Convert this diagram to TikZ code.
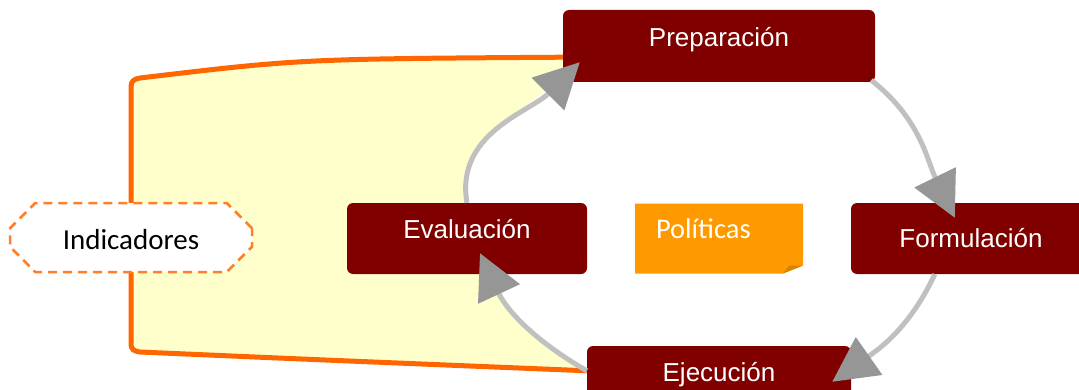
\documentclass[tikz,border=0pt]{standalone}
\usepackage{fontspec}
\setmainfont{Liberation Sans}
\newfontfamily\carlito{Carlito}
\usepackage{xcolor}
\usetikzlibrary{shapes.misc, arrows.meta}
\definecolor{boxred}{HTML}{800000}
\definecolor{polorange}{HTML}{FF9900}
\definecolor{foldorange}{HTML}{D98200}
\definecolor{areafill}{HTML}{FFFFCC}
\definecolor{areaborder}{HTML}{FF6600}
\definecolor{dashorange}{HTML}{FF7F2A}
\definecolor{arcgray}{HTML}{C0C0C0}
\definecolor{tipgray}{HTML}{969696}
\pgfdeclarelayer{background}
\pgfsetlayers{background,main}
\tikzstyle{stage} = [rectangle, rounded corners=6pt, fill=boxred, text=white, font=\fontsize{26}{30}\selectfont, text height=18.5pt, text depth=18pt, minimum height=71pt, inner sep=0pt]
\tikzstyle{policy} = [rectangle, text=white, font=\carlito\fontsize{28.5}{32}\selectfont, text height=18.5pt, text depth=18pt, minimum height=70pt, text width=126pt, align=left, inner xsep=21pt, inner ysep=0pt,
  path picture={
    \fill[polorange] (path picture bounding box.north west) -- (path picture bounding box.north east) -- ([yshift=8pt]path picture bounding box.south east) -- ([xshift=-20pt]path picture bounding box.south east) -- (path picture bounding box.south west) -- cycle;
    \fill[foldorange] ([yshift=8pt]path picture bounding box.south east) -- ([xshift=-20pt]path picture bounding box.south east) -- ([xshift=-14pt,yshift=8pt]path picture bounding box.south east) -- cycle;}]
\tikzstyle{indic} = [chamfered rectangle, chamfered rectangle xsep=23pt, chamfered rectangle ysep=13pt, draw=dashorange, line width=2.5pt, dash pattern=on 9pt off 6pt, fill=white, text=black, font=\carlito\fontsize{29}{32}\selectfont, text height=24.5pt, text depth=0pt, minimum width=242pt, minimum height=69pt, inner sep=0pt]
\tikzstyle{border} = [draw=areaborder, line width=5pt]
\tikzstyle{line} = [draw=arcgray, line width=5pt, -{Triangle[length=45pt, width=45pt, color=tipgray]}]

\begin{document}
\begin{tikzpicture}[x=1pt, y=1pt, node distance=252pt]
\clip (0,0) rectangle (1079,389);

\node [stage, minimum width=240pt] (eva) at (467,150.5) {Evaluación};
\node [policy, right of=eva] (pol) {Políticas};
\node [stage, minimum width=240pt, text depth=0pt, right of=pol] (form) {Formulación};
\node [stage, minimum width=312pt, minimum height=72pt, above of=pol, yshift=-59.5pt] (prep) {Preparación};
\node [stage, minimum width=264pt, below of=pol, yshift=109pt] (eje) {Ejecución};
\node [indic, left of=eva, xshift=-84pt, yshift=1pt] (ind) {Indicadores};

% area behind the cycle
\begin{pgfonlayer}{background}
\fill [areafill] (131,46) .. controls (131,39) and (134,38) .. (140,37) .. controls (300,30) .. ([yshift=-25pt]eje.north west)
  to[out=150, in=295] ([xshift=13pt, yshift=21pt]eva.south) -- (eva.north)
  to[out=100, in=225] ([xshift=17pt, yshift=20pt]prep.south west) -- ([yshift=25pt]prep.south west)
  .. controls (300,330) .. (140,311) .. controls (134,310) and (131,308) .. (131,302) -- cycle;
\path [border] ([yshift=25pt]prep.south west) .. controls (300,330) .. (140,311) .. controls (134,310) and (131,308) .. (131,302)
  -- (131,46) .. controls (131,39) and (134,38) .. (140,37) .. controls (300,30) .. ([yshift=-25pt]eje.north west);
\end{pgfonlayer}

\path [line] (eva.north) to[out=100, in=225] ([xshift=17pt, yshift=20pt]prep.south west);
\path [line] ([xshift=-4pt, yshift=2pt]prep.south east) to[out=-38, in=116] ([xshift=104pt, yshift=-15pt]form.north west);
\path [line] ([xshift=84pt]form.south west) to[out=-115, in=35] ([xshift=-19pt, yshift=-36pt]eje.north east);
\path [line] ([yshift=-25pt]eje.north west) to[out=150, in=295] ([xshift=13pt, yshift=21pt]eva.south);

\end{tikzpicture}
\end{document}
